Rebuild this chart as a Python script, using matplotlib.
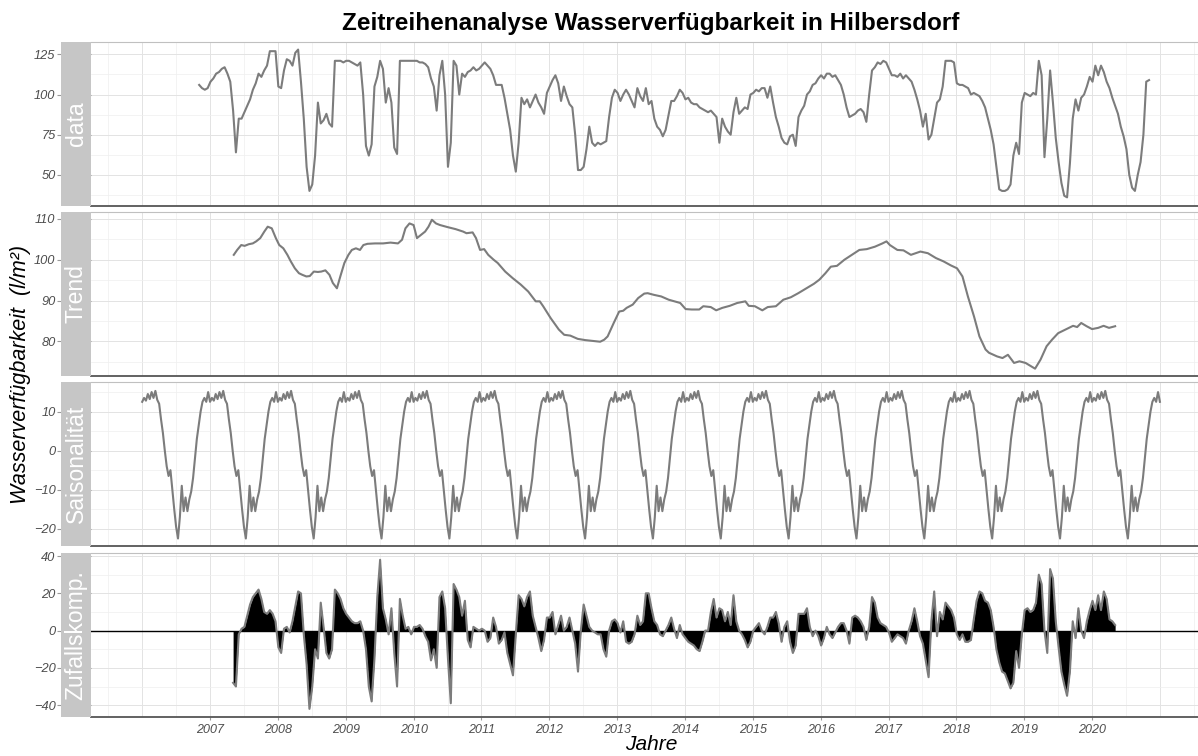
import numpy as np
import matplotlib.pyplot as plt

plt.rcParams['font.family'] = ['Liberation Sans', 'DejaVu Sans']

# ------------------------------------------------------------
# Werte
# ------------------------------------------------------------
# Rohdaten, halbmonatlich ab 2006.84
data_start = 2006.84
data_vals = [
    106, 104, 103, 104, 108, 110, 113, 114, 116, 117,
    113, 108, 90, 64, 85, 85, 89, 93, 97, 103,
    107, 113, 111, 115, 118, 127, 127, 127, 105, 104,
    115, 122, 121, 118, 126, 128, 108, 85, 55, 40,
    44, 62, 95, 82, 84, 88, 82, 80, 121, 121,
    121, 120, 121, 121, 120, 119, 118, 120, 100, 68,
    62, 69, 105, 111, 121, 116, 95, 104, 95, 67,
    63, 121, 121, 121, 121, 121, 121, 121, 120, 120,
    119, 117, 110, 105, 90, 112, 121, 100, 55, 70,
    121, 118, 100, 113, 111, 114, 115, 117, 115, 116,
    118, 120, 118, 116, 112, 106, 106, 106, 98, 88,
    78, 62, 52, 70, 98, 94, 97, 92, 96, 100,
    95, 92, 88, 101, 105, 109, 112, 107, 96, 105,
    99, 94, 92, 75, 53, 53, 55, 66, 80, 70,
    68, 70, 69, 70, 71, 86, 98, 103, 101, 96,
    100, 103, 100, 96, 92, 104, 99, 96, 104, 94,
    96, 85, 80, 78, 74, 78, 87, 96, 96, 99,
    103, 101, 97, 98, 95, 94, 94, 92, 91, 90,
    89, 90, 88, 86, 70, 85, 80, 77, 75, 89,
    98, 88, 90, 92, 91, 100, 101, 103, 102, 104,
    104, 98, 105, 95, 86, 80, 73, 70, 69, 74,
    75, 68, 86, 90, 93, 100, 102, 106, 107, 110,
    112, 110, 113, 113, 111, 112, 109, 106, 100, 92,
    86, 87, 88, 90, 91, 89, 83, 100, 115, 117,
    120, 119, 121, 120, 116, 112, 112, 111, 113, 110,
    112, 110, 108, 103, 97, 90, 80, 88, 72, 75,
    85, 95, 97, 105, 121, 121, 121, 120, 107, 106,
    106, 105, 104, 100, 101, 100, 99, 96, 92, 85,
    78, 69, 55, 41, 40, 40, 41, 44, 62, 70,
    63, 95, 101, 100, 99, 101, 100, 121, 112, 61,
    85, 115, 95, 73, 58, 45, 37, 36, 57, 85,
    97, 90, 98, 100, 105, 111, 108, 118, 112, 118,
    114, 108, 104, 98, 93, 88, 80, 74, 66, 50,
    42, 40, 50, 58, 75, 108, 109,
]

trend_years = [
    2007.35, 2007.40, 2007.46, 2007.51, 2007.57, 2007.63, 2007.68, 2007.74, 2007.80, 2007.85,
    2007.91, 2007.97, 2008.02, 2008.08, 2008.14, 2008.19, 2008.25, 2008.31, 2008.36, 2008.42,
    2008.47, 2008.53, 2008.59, 2008.64, 2008.70, 2008.76, 2008.81, 2008.87, 2008.92, 2008.98,
    2009.04, 2009.09, 2009.15, 2009.21, 2009.26, 2009.32, 2009.43, 2009.55, 2009.66, 2009.77,
    2009.83, 2009.88, 2009.94, 2010.00, 2010.05, 2010.11, 2010.17, 2010.22, 2010.27, 2010.33,
    2010.39, 2010.50, 2010.62, 2010.73, 2010.78, 2010.87, 2010.92, 2010.98, 2011.04, 2011.10,
    2011.18, 2011.24, 2011.35, 2011.46, 2011.58, 2011.69, 2011.80, 2011.86, 2011.91, 2012.02,
    2012.14, 2012.22, 2012.31, 2012.42, 2012.53, 2012.75, 2012.81, 2012.86, 2012.95, 2013.03,
    2013.09, 2013.14, 2013.23, 2013.31, 2013.40, 2013.45, 2013.54, 2013.65, 2013.76, 2013.93,
    2014.01, 2014.10, 2014.21, 2014.27, 2014.38, 2014.46, 2014.55, 2014.66, 2014.77, 2014.89,
    2014.94, 2015.03, 2015.14, 2015.22, 2015.34, 2015.45, 2015.56, 2015.67, 2015.79, 2015.90,
    2015.98, 2016.07, 2016.15, 2016.24, 2016.35, 2016.46, 2016.57, 2016.68, 2016.80, 2016.91,
    2016.97, 2017.02, 2017.13, 2017.22, 2017.33, 2017.47, 2017.58, 2017.70, 2017.81, 2017.92,
    2018.01, 2018.09, 2018.17, 2018.26, 2018.34, 2018.43, 2018.48, 2018.60, 2018.68, 2018.76,
    2018.85, 2018.93, 2019.02, 2019.10, 2019.16, 2019.24, 2019.33, 2019.41, 2019.50, 2019.61,
    2019.72, 2019.78, 2019.84, 2019.92, 2020.00, 2020.09, 2020.17, 2020.25, 2020.34,
]
trend_vals = [
    101.2, 102.4, 103.6, 103.4, 103.8, 104.0, 104.5, 105.3, 106.9, 108.1,
    107.7, 105.3, 103.6, 102.8, 101.2, 99.6, 97.9, 96.7, 96.3, 95.9,
    96.0, 97.1, 97.0, 97.1, 97.4, 96.3, 94.3, 93.0, 95.9, 99.2,
    101.2, 102.4, 102.8, 102.4, 103.6, 103.9, 104.0, 104.0, 104.2, 104.0,
    104.9, 107.7, 108.9, 108.5, 105.3, 106.1, 106.9, 108.1, 109.8, 108.9,
    108.5, 108.0, 107.5, 106.9, 106.5, 106.7, 105.3, 102.4, 102.6, 101.2,
    100.0, 99.2, 97.1, 95.5, 93.9, 92.2, 89.8, 89.8, 88.6, 85.7,
    82.9, 81.6, 81.4, 80.6, 80.3, 79.9, 80.4, 81.2, 84.5, 87.3,
    87.5, 88.2, 89.0, 90.6, 91.7, 91.8, 91.4, 91.0, 90.2, 89.4,
    87.9, 87.8, 87.8, 88.6, 88.4, 87.6, 88.2, 88.7, 89.4, 89.8,
    88.7, 88.6, 87.6, 88.4, 88.6, 90.2, 90.8, 91.8, 93.0, 94.1,
    95.1, 96.7, 98.3, 98.5, 100.0, 101.2, 102.4, 102.6, 103.2, 104.0,
    104.5, 103.6, 102.4, 102.3, 101.2, 102.0, 101.6, 100.4, 99.6, 98.6,
    97.9, 95.9, 91.0, 86.1, 81.2, 78.0, 77.2, 76.3, 75.9, 76.7,
    74.7, 75.1, 74.7, 73.9, 73.3, 75.5, 78.8, 80.4, 82.0, 82.9,
    83.8, 83.5, 84.5, 83.7, 83.0, 83.3, 83.8, 83.3, 83.7,
]

# ein Jahresgang der Saisonkomponente (36 Werte pro Jahr), 2006 bis 2021
saison_start = 2006.0
saison_profil = [
    12.5, 13.5, 12.8, 14.5, 13.2, 15.0, 13.5, 15.3, 13.0, 12.0,
    8.0, 4.5, 0.0, -4.0, -6.5, -5.0, -10.0, -15.0, -19.5, -22.5,
    -17.0, -9.0, -15.5, -12.0, -15.5, -12.5, -10.5, -7.0, -2.0, 3.0,
    6.5, 10.0, 12.5, 13.5, 12.5, 15.0,
]
saison_vals = saison_profil * 15 + [saison_profil[0]]

# Zufallskomponente, halbmonatlich ab 2007.34
rest_start = 2007.34
rest_vals = [
    -28, -30, -2, 1, 2, 8, 14, 18, 20, 22,
    17, 10, 9, 11, 9, 5, -9, -12, 1, 2,
    -1, 5, 13, 21, 20, -2, -18, -42, -30, -10,
    -15, 15, 2, -12, -15, -10, 22, 20, 17, 12,
    9, 7, 5, 4, 4, 5, 0, -10, -30, -38,
    -15, 18, 38, 12, 6, -2, 12, -12, -30, 17,
    8, 1, 2, -2, 2, 2, 3, 1, -3, -6,
    -16, -10, -20, 18, 21, 12, -15, -39, 25, 22,
    18, 8, 16, -5, -9, 2, 1, 0, 1, 0,
    -6, -4, 7, 2, -7, -5, -1, -12, -18, -24,
    -2, 19, 17, 13, 18, 21, 8, 2, -4, -11,
    -5, 7, 7, 10, -2, 3, 8, 0, 2, 7,
    0, -7, -22, 0, 14, 8, 2, 0, -1, -2,
    -2, -10, -14, 0, 5, 6, 4, -1, 5, -6,
    -7, -6, -2, 8, 3, 5, 20, 20, 12, 5,
    3, -2, -3, 0, 3, 7, 1, -4, 3, -2,
    -4, -6, -7, -8, -10, -11, -6, 0, 0, 10,
    17, 7, 12, 11, 5, 10, 3, 19, 5, 0,
    -2, -5, -9, -6, 0, 2, 4, 0, -2, 2,
    7, 7, 10, 4, -6, 2, 5, -6, -12, -8,
    9, 9, 9, 12, 2, -3, 0, -3, -8, -4,
    2, -2, -4, -1, 2, 4, 4, 0, -7, 7,
    8, 7, 5, 2, -5, 2, 18, 15, 7, 4,
    3, 2, -1, -6, -4, -2, -3, -4, -7, 0,
    5, 12, 5, -3, -7, -16, -25, 5, 21, -3,
    10, 6, 15, 13, 11, 7, -2, -5, -2, -6,
    -6, -5, 6, 16, 21, 20, 16, 15, 11, 2,
    -10, -17, -22, -23, -27, -31, -28, -11, -20, -2,
    11, 12, 10, 11, 15, 30, 25, 0, -12, 33,
    28, 5, -9, -22, -29, -35, -22, 5, -4, 12,
    0, -4, 5, 11, 16, 11, 19, 11, 21, 17,
    6, 5, 3,
]

strip_labels = ["data", "Trend", "Saisonalität", "Zufallskomp."]
y_ticks = [[50, 75, 100, 125], [80, 90, 100, 110], [-20, -10, 0, 10], [-40, -20, 0, 20, 40]]
y_limits = [(30.8, 132.9), (71.5, 111.7), (-24.5, 17.5), (-46.2, 41.8)]
x_years = list(range(2007, 2021))

t_data = data_start + np.arange(len(data_vals)) / 24
t_saison = saison_start + np.arange(len(saison_vals)) / 36
t_rest = rest_start + np.arange(len(rest_vals)) / 24

# ------------------------------------------------------------
# Layout (Pixel)
# ------------------------------------------------------------
W, H = 1198, 756
fig = plt.figure(figsize=(W / 100, H / 100), dpi=100)

x_left, x_right = 91.3, 1210.8
strip_left = 61.0
panel_tops = [41.7, 212.0, 382.3, 552.7]
panel_h = 164.0

line_col = '#7c7c7c'
axes = []
for i, top in enumerate(panel_tops):
    ax = fig.add_axes([x_left / W, 1 - (top + panel_h) / H,
                       (x_right - x_left) / W, panel_h / H])
    ax.set_xlim(2005.25, 2021.75)
    ax.set_ylim(*y_limits[i])

    # Gitter
    for g in np.arange(2005.5, 2022, 0.5):
        major = float(g).is_integer()
        ax.axvline(g, color='#e3e3e3' if major else '#efefef',
                   lw=0.7 if major else 0.5, zorder=0)
    yt = y_ticks[i]
    step = yt[1] - yt[0]
    for v in np.arange(yt[0] - step, yt[-1] + 1.5 * step, step / 2):
        major = v in yt
        ax.axhline(v, color='#e3e3e3' if major else '#efefef',
                   lw=0.7 if major else 0.5, zorder=0)

    ax.set_yticks(yt)
    ax.tick_params(axis='y', direction='out', length=24.3, width=0.8,
                   color='#9a9a9a', labelsize=9.3, labelcolor='#4d4d4d', pad=1.5)
    for lab in ax.get_yticklabels():
        lab.set_style('italic')

    ax.spines['left'].set_visible(False)
    ax.spines['top'].set_color('#c0c0c0')
    ax.spines['right'].set_color('#c0c0c0')
    ax.spines['bottom'].set_color('#555555')
    ax.spines['bottom'].set_linewidth(1.3)

    if i < 3:
        ax.tick_params(axis='x', bottom=False, labelbottom=False)
    else:
        ax.set_xticks(x_years)
        ax.set_xticklabels([str(y) for y in x_years])
        ax.tick_params(axis='x', direction='out', length=2.5, width=0.8,
                       color='#9a9a9a', labelsize=9, labelcolor='#4d4d4d', pad=3)
        for lab in ax.get_xticklabels():
            lab.set_style('italic')
    axes.append(ax)

    # Streifen mit Beschriftung
    sax = fig.add_axes([strip_left / W, 1 - (top + panel_h) / H,
                        (x_left - strip_left) / W, panel_h / H])
    sax.set_facecolor('#c6c6c6')
    sax.set_xticks([])
    sax.set_yticks([])
    for s in sax.spines.values():
        s.set_visible(False)
    sax.text(0.5, 0.5, strip_labels[i], rotation=90, color='white',
             fontsize=16.5, ha='center', va='center', transform=sax.transAxes)

axes[0].plot(t_data, data_vals, color=line_col, lw=1.5, zorder=3)
axes[1].plot(trend_years, trend_vals, color=line_col, lw=1.5, zorder=3)
axes[2].plot(t_saison, saison_vals, color=line_col, lw=1.5, zorder=3)
axes[3].axhline(0, color='black', lw=1.0, zorder=2)
axes[3].fill_between(t_rest, 0, rest_vals, color='black', lw=0, zorder=2)
axes[3].plot(t_rest, rest_vals, color=line_col, lw=1.5, zorder=3)

fig.text(651 / W, 1 - 30 / H, "Zeitreihenanalyse Wasserverfügbarkeit in Hilbersdorf",
         ha='center', va='baseline', fontsize=17.5, fontweight='bold')
fig.text(21 / W, 1 - 375 / H, "Wasserverfügbarkeit  (l/m²)", rotation=90,
         ha='center', va='center', fontsize=15.5, style='italic')
fig.text(651 / W, 1 - 745 / H, "Jahre", ha='center', va='center',
         fontsize=15, style='italic')

fig.savefig("out.png", dpi=100)
